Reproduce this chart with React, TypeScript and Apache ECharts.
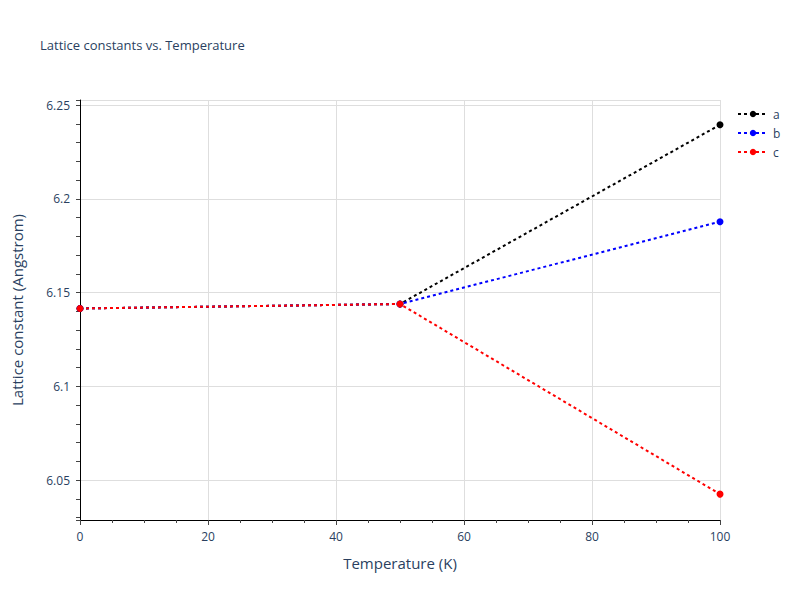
import React, { useEffect, useRef } from "react";
import * as echarts from "echarts";

const temperatures = [0, 50, 100];
const seriesA = [6.1415, 6.1439, 6.2395];
const seriesB = [6.1415, 6.1439, 6.1878];
const seriesC = [6.1415, 6.1439, 6.0425];
const seriesNames = ["a", "b", "c"];
const seriesColors = ["#000000", "#0000ff", "#ff0000"];
const yMin = 6.0287;
const yMax = 6.2527;

const FONT = "'Open Sans', 'DejaVu Sans', sans-serif";
const TXT = "#2a3f5f";

export default function App() {
  const ref = useRef<HTMLDivElement>(null);
  useEffect(() => {
    if (!ref.current) return;
    const chart = echarts.init(ref.current, undefined, { renderer: "svg" });
    const values = [seriesA, seriesB, seriesC];
    const series = values.map((vals, i) => ({
      name: seriesNames[i],
      type: "line",
      xAxisIndex: 0,
      yAxisIndex: 0,
      data: temperatures.map((t, j) => [t, vals[j]]),
      symbol: "circle",
      symbolSize: 7,
      showSymbol: true,
      itemStyle: { color: seriesColors[i] },
      lineStyle: { color: seriesColors[i], width: 2, type: [3, 3] },
      z: 3 + i,
    }));
    chart.setOption({
      animation: false,
      backgroundColor: "#ffffff",
      textStyle: { fontFamily: FONT },
      title: {
        text: "Lattice constants vs. Temperature",
        left: 40,
        top: 38,
        padding: 0,
        textStyle: { fontFamily: FONT, fontSize: 13, fontWeight: "normal", color: TXT },
      },
      legend: {
        orient: "vertical",
        left: 737,
        top: 108,
        padding: 0,
        itemWidth: 30,
        itemHeight: 8,
        itemGap: 7,
        data: seriesNames,
        textStyle: { fontFamily: FONT, fontSize: 12, color: TXT },
      },
      grid: { left: 80, right: 80, top: 100, bottom: 80, containLabel: false },
      xAxis: [
        {
          type: "value",
          min: 0,
          max: 100,
          interval: 20,
          name: "Temperature (K)",
          nameLocation: "middle",
          nameGap: 35,
          nameTextStyle: { fontFamily: FONT, fontSize: 15, color: TXT },
          axisLine: { show: true, lineStyle: { color: "#000", width: 1 } },
          axisTick: { show: true, length: 5, lineStyle: { color: "#444" } },
          minorTick: { show: true, splitNumber: 4, length: 3, lineStyle: { color: "#444" } },
          axisLabel: { fontFamily: FONT, fontSize: 12, color: TXT, margin: 10 },
          splitLine: { show: true, lineStyle: { color: "#dedede", width: 1 } },
        },
      ],
      yAxis: [
        {
          type: "value",
          min: yMin,
          max: yMax,
          splitNumber: 5,
          name: "Lattice constant (Angstrom)",
          nameLocation: "middle",
          nameGap: 56,
          nameTextStyle: { fontFamily: FONT, fontSize: 15, color: TXT },
          axisLine: { show: true, lineStyle: { color: "#000", width: 1 } },
          axisTick: { show: false },
          axisLabel: {
            fontFamily: FONT,
            fontSize: 12,
            color: TXT,
            margin: 10,
            showMinLabel: false,
            showMaxLabel: false,
            formatter: (v: number) => {
              const r = Math.round(v / 0.05) * 0.05;
              return Math.abs(r - v) < 1e-6 ? String(parseFloat(v.toFixed(2))) : "";
            },
          },
          splitLine: { show: true, lineStyle: { color: "#dedede", width: 1 } },
        },
        {
          type: "value",
          min: yMin,
          max: yMax,
          splitNumber: 22,
          position: "left",
          offset: 0,
          axisLine: { show: false },
          axisTick: { show: true, length: 4, lineStyle: { color: "#444" } },
          axisLabel: { show: false },
          splitLine: { show: false },
        },
      ],
      series,
    });
    return () => chart.dispose();
  }, []);
  return <div ref={ref} style={{ width: 800, height: 600, margin: -8 }} />;
}
